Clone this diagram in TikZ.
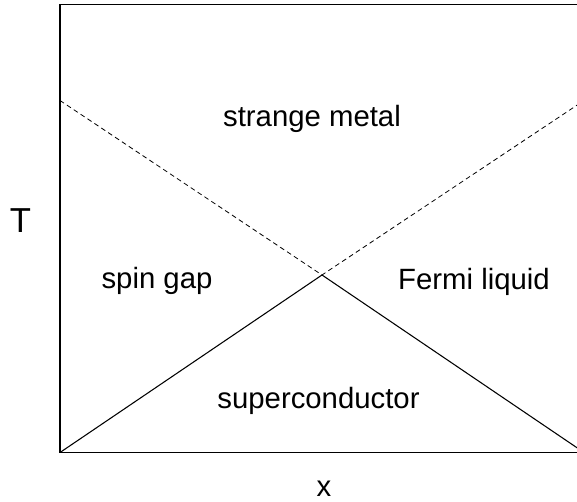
\documentclass[tikz,border=0pt]{standalone}
\usepackage{fontspec}
\setmainfont{Liberation Sans}
\usetikzlibrary{positioning}

\begin{document}
\begin{tikzpicture}[x=0.75pt,y=-0.75pt,font=\fontsize{22}{26}\selectfont,
  lbl/.style={anchor=base,inner sep=0pt}]
  \useasboundingbox (0,0) rectangle (577,502);
  \clip (0,0) rectangle (577,502);
  % frame corners and crossing point
  \coordinate (tl) at (60,4.5);
  \coordinate (tr) at (584,4.5);
  \coordinate (bl) at (60,452.5);
  \coordinate (br) at (584,452.5);
  \coordinate (ml) at (60,100.5);
  \coordinate (mr) at (584,100.5);
  \coordinate (qc) at (322,275);
  \draw[line width=0.8pt] (tr)--(tl)--(bl)--(br);
  \draw[line width=0.6pt,dash pattern=on 3.6pt off 2.6pt] (ml)--(qc)--(mr);
  \draw[line width=0.8pt] (bl)--(qc)--(br);
  % phase labels
  \node[lbl] (sm) at (312,126.5) {strange metal};
  \node[lbl] (sg) at (157,288.5) {spin gap};
  \node[lbl] (fl) at (474,289) {Fermi liquid};
  \node[lbl] (sc) at (318.5,408.5) {superconductor};
  % axis labels
  \node[lbl,font=\fontsize{26}{30}\selectfont] (tax) at (20.5,232.7) {T};
  \node[lbl] (xax) at (324,496.5) {x};
\end{tikzpicture}
\end{document}
